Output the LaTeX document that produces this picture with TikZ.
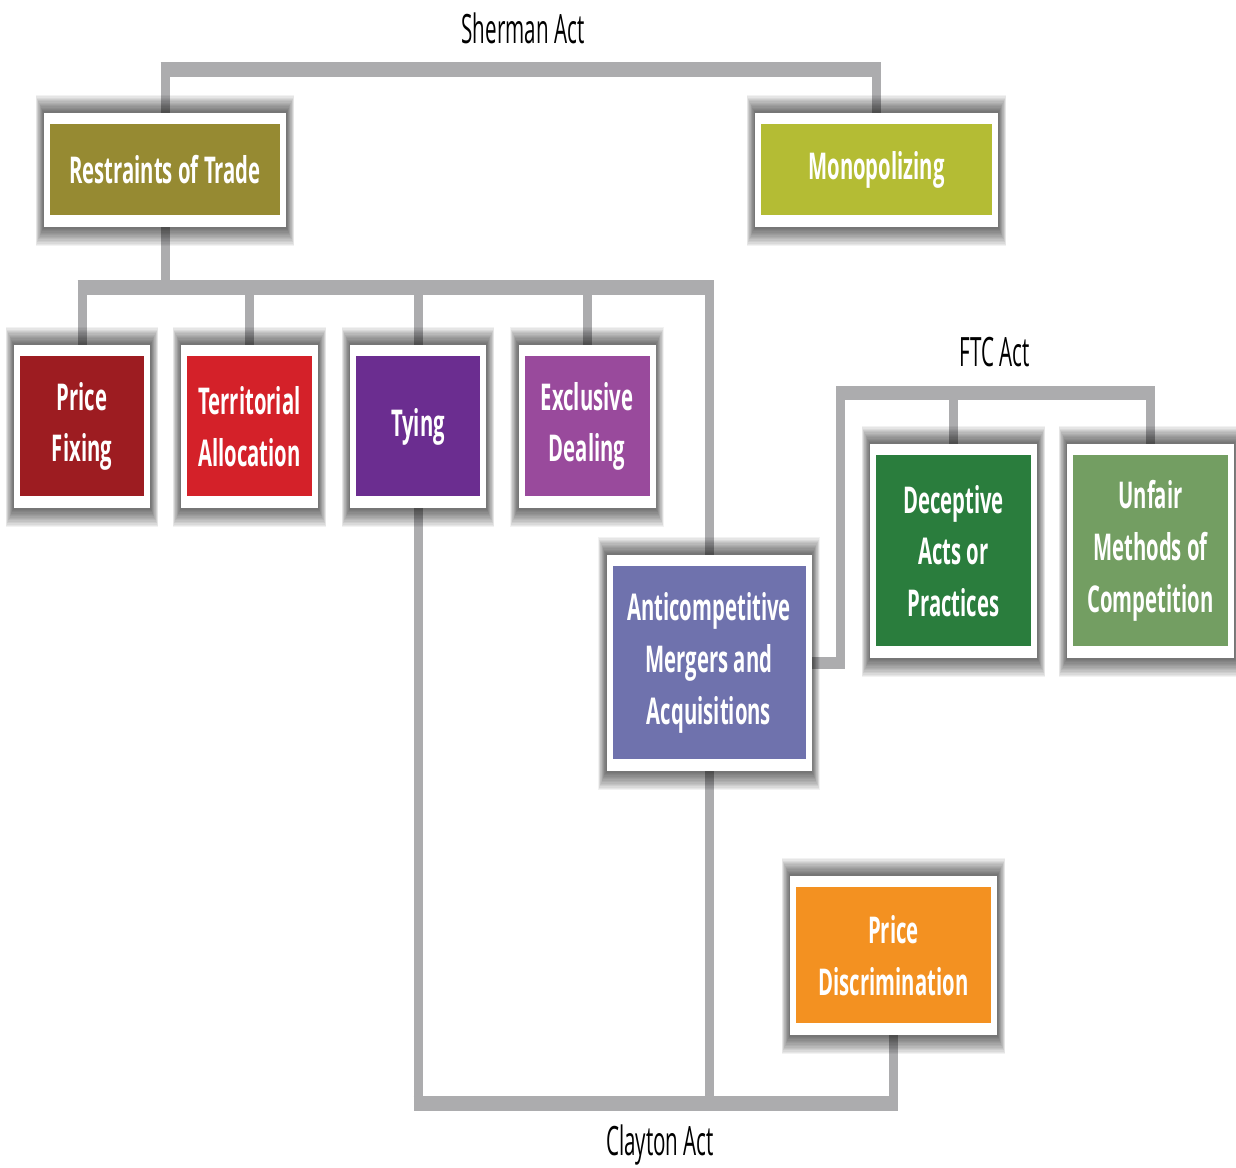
\documentclass[tikz,border=0pt]{standalone}
\usepackage{fontspec}
\newfontfamily\boxfont[FakeStretch=0.55]{Open Sans}
\newfontfamily\actfont[FakeStretch=0.51]{Open Sans}

\definecolor{conngray}{HTML}{ACACAE}
\definecolor{cRT}{HTML}{968A32}
\definecolor{cMO}{HTML}{B4BC34}
\definecolor{cPF}{HTML}{9D1C21}
\definecolor{cTA}{HTML}{D42129}
\definecolor{cTY}{HTML}{6B2D90}
\definecolor{cED}{HTML}{994A9C}
\definecolor{cAM}{HTML}{6F72AD}
\definecolor{cDA}{HTML}{2A7D3D}
\definecolor{cUM}{HTML}{739E62}
\definecolor{cPD}{HTML}{F39121}

\pgfdeclarelayer{bg}
\pgfdeclarelayer{shade}
\pgfsetlayers{bg,shade,main}

\tikzset{
  sz/.style 2 args={minimum width=#1*0.02cm, minimum height=#2*0.02cm},
  tbox/.style={fill=white, inner sep=0pt, text=white, align=center,
    font=\boxfont\bfseries\fontsize{21}{29.5}\selectfont,
    path picture={\fill[#1]
      ([xshift=0.12cm,yshift=0.24cm]path picture bounding box.south west) rectangle
      ([xshift=-0.12cm,yshift=-0.22cm]path picture bounding box.north east);}},
  act/.style={font=\actfont\fontsize{23}{28}\selectfont, text=black, inner sep=0pt},
  stem/.style={draw=conngray, line width=0.18cm},
  hbar/.style={draw=conngray, line width=0.3cm},
  shadelayer/.style={fill=black, opacity=0.05},
}

% soft shadow around a box: stacked translucent rectangles
\newcommand\softshade[1]{%
  \foreach \k in {1,...,14}{%
    \fill[shadelayer]
      ([xshift=-\k*0.0115cm, yshift=-\k*0.027cm]#1.south west) rectangle
      ([xshift=\k*0.0115cm, yshift=\k*0.025cm]#1.north east);}}

\begin{document}
\begin{tikzpicture}[x=0.02cm, y=-0.02cm]
\useasboundingbox (0,0) rectangle (1236,1168);

% act titles
\node[act] (sherman) at (523,28) {Sherman Act};
\node[act] (ftc) at (995,352) {FTC Act};
\node[act] (clayton) at (660,1145) {Clayton Act};

% Sherman Act branch
\node[tbox=cRT, sz={242}{114}] (rt) at (165,170) {Restraints of Trade};
\node[tbox=cMO, sz={243}{114}] (mono) at (876.5,170) {Monopolizing};

% restraints of trade
\node[tbox=cPF, sz={136}{163}] (pf) at (82,426.5) {Price\\Fixing};
\node[tbox=cTA, sz={137}{163}] (ta) at (249.5,426.5) {Territorial\\Allocation};
\node[tbox=cTY, sz={136}{163}] (ty) at (418,426.5) {Tying};
\node[tbox=cED, sz={137}{163}] (ed) at (587,426.5) {Exclusive\\Dealing};

% mergers, FTC Act, price discrimination
\node[tbox=cAM, sz={205}{216}] (am) at (709,663) {Anticompetitive\\Mergers and\\Acquisitions};
\node[tbox=cDA, sz={167}{214}] (dap) at (953.5,551) {Deceptive\\Acts or\\Practices};
\node[tbox=cUM, sz={167}{214}] (umc) at (1150.5,551) {Unfair\\Methods of\\Competition};
\node[tbox=cPD, sz={207}{159}] (pd) at (893.5,955.5) {Price\\Discrimination};

% bar levels
\coordinate (sh) at (520,70);
\coordinate (rb) at (400,288);
\coordinate (cb) at (650,1103.5);
\coordinate (fb) at (1000,393);
\coordinate (fv) at (840.5,664);

\begin{pgfonlayer}{shade}
  \foreach \n in {rt,mono,pf,ta,ty,ed,am,dap,umc,pd} {\softshade{\n}}
\end{pgfonlayer}

\begin{pgfonlayer}{bg}
  \fill[white] (0,0) rectangle (1236,1168);
  % Sherman Act
  \draw[stem] (rt.north) -- (rt.north |- sh);
  \draw[stem] (mono.north) -- (mono.north |- sh);
  \draw[hbar] ([xshift=-0.09cm]rt.north |- sh) -- ([xshift=0.09cm]mono.north |- sh);
  % restraints of trade
  \draw[stem] (rt.south) -- (rt.south |- rb);
  \foreach \n in {pf,ta,ty,ed,am}
    \draw[stem] (\n.north) -- (\n.north |- rb);
  \draw[hbar] ([xshift=-0.09cm]pf.north |- rb) -- ([xshift=0.09cm]am.north |- rb);
  % Clayton Act
  \foreach \n in {ty,am,pd}
    \draw[stem] (\n.south) -- (\n.south |- cb);
  \draw[hbar] ([xshift=-0.09cm]ty.south |- cb) -- ([xshift=0.09cm]pd.south |- cb);
  % FTC Act
  \draw[draw=conngray, line width=0.24cm] (am.east) -- ([xshift=0.09cm]am.east -| fv);
  \draw[stem] (am.east -| fv) -- (fv |- fb);
  \foreach \n in {dap,umc}
    \draw[stem] (\n.north) -- (\n.north |- fb);
  \draw[draw=conngray, line width=0.28cm] ([xshift=-0.09cm]fv |- fb) -- ([xshift=0.09cm]umc.north |- fb);
\end{pgfonlayer}
\end{tikzpicture}
\end{document}
